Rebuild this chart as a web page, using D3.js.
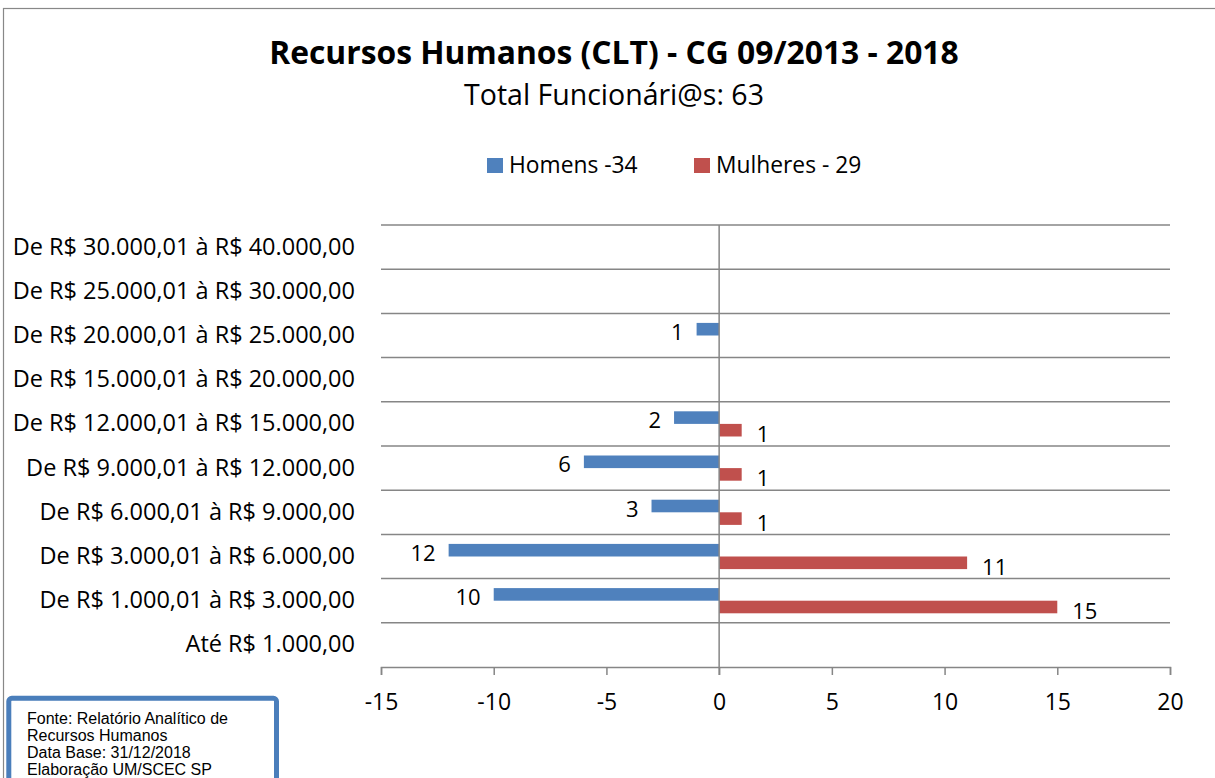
<!DOCTYPE html>
<html><head><meta charset="utf-8">
<script src="https://cdn.jsdelivr.net/npm/d3@7"></script>
<style>body{margin:0;background:#fff}svg{display:block}</style>
</head><body>
<svg id="c" width="1215" height="778"></svg>
<script>
const categories = [
  "De R$ 30.000,01 à R$ 40.000,00",
  "De R$ 25.000,01 à R$ 30.000,00",
  "De R$ 20.000,01 à R$ 25.000,00",
  "De R$ 15.000,01 à R$ 20.000,00",
  "De R$ 12.000,01 à R$ 15.000,00",
  "De R$ 9.000,01 à R$ 12.000,00",
  "De R$ 6.000,01 à R$ 9.000,00",
  "De R$ 3.000,01 à R$ 6.000,00",
  "De R$ 1.000,01 à R$ 3.000,00",
  "Até R$ 1.000,00"
];
const homens   = [0, 0, 1, 0, 2, 6, 3, 12, 10, 0];
const mulheres = [0, 0, 0, 0, 1, 1, 1, 11, 15, 0];
const seriesNames = ["Homens -34", "Mulheres - 29"];
const seriesColors = ["#4f81bd", "#c0504d"];
const xTicks = [-15, -10, -5, 0, 5, 10, 15, 20];
const title = "Recursos Humanos (CLT) - CG 09/2013 - 2018";
const subtitle = "Total Funcionári@s: 63";
const sourceLines = ["Fonte: Relatório Analítico de", "Recursos Humanos", "Data Base: 31/12/2018", "Elaboração UM/SCEC SP"];

const FONT = "'Open Sans', Lato, sans-serif";
const GRID = "#868686";
const svg = d3.select("#c");

// outer frame
svg.append("rect").attr("x", 3.5).attr("y", 8.5).attr("width", 1300).attr("height", 900)
  .attr("fill", "#fff").attr("stroke", "#888").attr("stroke-width", 1.2);

const x = d3.scaleLinear().domain([-15, 20]).range([381, 1170]);
const y = d3.scaleBand().domain(categories).range([225, 667]).paddingInner(0).paddingOuter(0);
const bh = y.bandwidth() * 0.285;

// gridlines
svg.append("g").selectAll("line").data(categories).join("line")
  .attr("x1", x(-15)).attr("x2", x(20))
  .attr("y1", d => y(d)).attr("y2", d => y(d))
  .attr("stroke", GRID).attr("stroke-width", 1.5);

// x axis
const xAxis = d3.axisBottom(x).tickValues(xTicks).tickSize(8).tickFormat(d3.format("d"));
const ax = svg.append("g").attr("transform", `translate(0,667)`).call(xAxis);
ax.select(".domain").attr("stroke", GRID).attr("stroke-width", 1.5);
ax.selectAll(".tick line").attr("stroke", GRID).attr("stroke-width", 1.5);
ax.selectAll(".tick text").attr("font-family", FONT).attr("font-size", 23).attr("fill", "#000")
  .attr("y", 43).attr("dy", null)
  .text(d => d < 0 ? "-" + Math.abs(d) : d);

// bars
const rows = categories.map((c, i) => ({c, h: homens[i], m: mulheres[i]}));
svg.append("g").selectAll("rect").data(rows.filter(r => r.h > 0)).join("rect")
  .attr("x", d => x(-d.h)).attr("width", d => x(0) - x(-d.h))
  .attr("y", d => y(d.c) + y.bandwidth() / 2 - bh).attr("height", bh)
  .attr("fill", seriesColors[0]);
svg.append("g").selectAll("rect").data(rows.filter(r => r.m > 0)).join("rect")
  .attr("x", x(0)).attr("width", d => x(d.m) - x(0))
  .attr("y", d => y(d.c) + y.bandwidth() / 2).attr("height", bh)
  .attr("fill", seriesColors[1]);

// zero line
svg.append("line").attr("x1", x(0)).attr("x2", x(0)).attr("y1", 225).attr("y2", 675)
  .attr("stroke", GRID).attr("stroke-width", 1.5);

// bar labels
svg.append("g").selectAll("text").data(rows.filter(r => r.h > 0)).join("text")
  .attr("x", d => x(-d.h) - 13).attr("y", d => y(d.c) + y.bandwidth() / 2 - bh / 2 + 1.5)
  .attr("text-anchor", "end").attr("dominant-baseline", "central")
  .attr("font-family", FONT).attr("font-size", 22).text(d => d.h);
svg.append("g").selectAll("text").data(rows.filter(r => r.m > 0)).join("text")
  .attr("x", d => x(d.m) + 15).attr("y", d => y(d.c) + y.bandwidth() / 2 + bh / 2 + 3)
  .attr("text-anchor", "start").attr("dominant-baseline", "central")
  .attr("font-family", FONT).attr("font-size", 22).text(d => d.m);

// category labels
svg.append("g").selectAll("text").data(categories).join("text")
  .attr("x", 355).attr("y", d => y(d) + y.bandwidth() / 2 + 7.5)
  .attr("text-anchor", "end")
  .attr("font-family", FONT).attr("font-size", 23.5).attr("fill", "#000").text(d => d);

// title
svg.append("text").attr("x", 614).attr("y", 64).attr("text-anchor", "middle")
  .attr("font-family", FONT).attr("font-weight", "bold").attr("font-size", 31.8).text(title);
svg.append("text").attr("x", 614).attr("y", 105).attr("text-anchor", "middle")
  .attr("font-family", FONT).attr("font-size", 28.5).text(subtitle);

// legend
const leg = [{x: 487, name: seriesNames[0], col: seriesColors[0]}, {x: 694, name: seriesNames[1], col: seriesColors[1]}];
const lg = svg.append("g").selectAll("g").data(leg).join("g");
lg.append("rect").attr("x", d => d.x).attr("y", 158).attr("width", 16).attr("height", 15).attr("fill", d => d.col);
lg.append("text").attr("x", d => d.x + 22).attr("y", 173)
  .attr("font-family", FONT).attr("font-size", 22.8).text(d => d.name);

// source box
svg.append("rect").attr("x", 8.8).attr("y", 698.3).attr("width", 267.7).attr("height", 120)
  .attr("fill", "#fff").attr("stroke", "#4a7ebb").attr("stroke-width", 5).attr("rx", 3);
svg.append("g").selectAll("text").data(sourceLines).join("text")
  .attr("x", 27).attr("y", (d, i) => 724 + i * 17)
  .attr("font-family", "'Liberation Sans', Arial, sans-serif").attr("font-size", 16).text(d => d);
</script>
</body></html>
